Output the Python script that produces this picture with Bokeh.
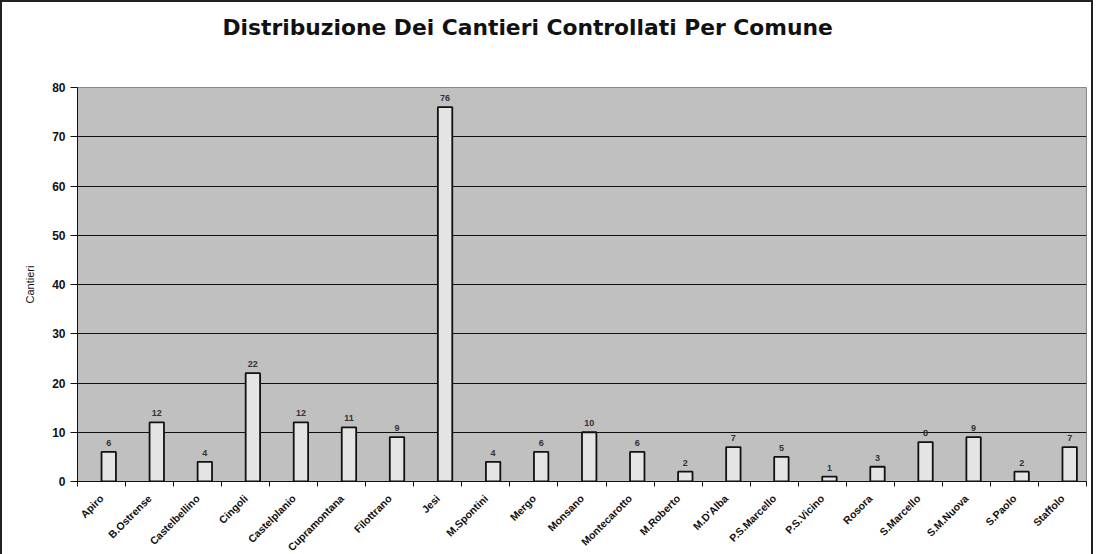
from bokeh.plotting import figure
from bokeh.models import ColumnDataSource, FixedTicker, LabelSet, Title, Range1d
from bokeh.core.properties import value
from bokeh.embed import file_html
from bokeh.resources import INLINE
import math

comuni = ["Apiro", "B.Ostrense", "Castelbellino", "Cingoli", "Castelplanio",
          "Cupramontana", "Filottrano", "Jesi", "M.Spontini", "Mergo",
          "Monsano", "Montecarotto", "M.Roberto", "M.D'Alba", "P.S.Marcello",
          "P.S.Vicino", "Rosora", "S.Marcello", "S.M.Nuova", "S.Paolo", "Staffolo"]
cantieri = [6, 12, 4, 22, 12, 11, 9, 76, 4, 6, 10, 6, 2, 7, 5, 1, 3, 8, 9, 2, 7]
y_ticks = [0, 10, 20, 30, 40, 50, 60, 70, 80]
titolo = "Distribuzione Dei Cantieri Controllati Per Comune"

idx = list(range(len(comuni)))
bar_left = [i + 0.0 for i in idx]
bar_right = [i + 0.3 for i in idx]
bar_mid = [i + 0.15 for i in idx]
src = ColumnDataSource(dict(x=idx, left=bar_left, right=bar_right, mid=bar_mid,
                            top=cantieri, txt=[str(v) for v in cantieri]))

FONT = "Liberation Sans"
p = figure(frame_width=1009, frame_height=394, output_backend="svg", toolbar_location=None,
           x_range=Range1d(-0.5, len(comuni) - 0.5), y_range=Range1d(0, 80),
           title_location=None,
           min_border_left=75, min_border_right=5, min_border_top=85, min_border_bottom=60)

# spacer between title and plot area, then the real title further out
spacer = Title(text=" ", text_font_size="14px", standoff=26, text_color="white")
p.add_layout(spacer, "above")
main_title = Title(text=titolo, align="left", offset=145, standoff=8,
                   text_font="DejaVu Sans", text_font_size="21.8px",
                   text_font_style="bold", text_color="#111111")
p.add_layout(main_title, "above")

p.background_fill_color = "#c0c0c0"
p.border_fill_color = "white"
p.outline_line_color = "#888888"
p.outline_line_width = 1

p.quad(left="left", right="right", bottom=0, top="top", source=src,
       fill_color="#e4e4e4", line_color="#111111", line_width=1.8)

labels = LabelSet(x="mid", y="top", text="txt", source=src, text_align="center",
                  y_offset=6, text_font=value(FONT), text_font_size=value("9px"),
                  text_font_style="bold", text_color="#333333")
p.add_layout(labels)

p.xgrid.grid_line_color = None
p.ygrid.ticker = FixedTicker(ticks=y_ticks[1:-1])
p.ygrid.grid_line_color = "#111111"
p.ygrid.grid_line_width = 1.2

p.yaxis.ticker = FixedTicker(ticks=y_ticks)
p.yaxis.axis_label = "Cantieri"
p.yaxis.axis_label_text_font = FONT
p.yaxis.axis_label_text_font_size = "11px"
p.yaxis.axis_label_text_font_style = "normal"
p.yaxis.axis_label_text_color = "#111111"
p.yaxis.axis_label_standoff = 13
p.yaxis.major_label_text_font = FONT
p.yaxis.major_label_text_font_size = "12px"
p.yaxis.major_label_text_font_style = "bold"
p.yaxis.major_label_text_color = "#111111"
p.yaxis.axis_line_color = "#111111"
p.yaxis.major_tick_line_color = "#111111"
p.yaxis.major_tick_out = 7
p.yaxis.major_tick_in = 0
p.yaxis.minor_tick_line_color = None

boundaries = [i - 0.5 for i in range(len(comuni) + 1)]
p.xaxis.ticker = FixedTicker(ticks=idx, minor_ticks=boundaries)
p.xaxis.major_label_overrides = {i: n for i, n in enumerate(comuni)}
p.xaxis.major_label_orientation = math.pi / 4
p.xaxis.major_label_text_font = FONT
p.xaxis.major_label_text_font_size = "10.5px"
p.xaxis.major_label_text_font_style = "bold"
p.xaxis.major_label_text_color = "#111111"
p.xaxis.major_label_standoff = 10
p.xaxis.major_tick_line_color = None
p.xaxis.major_tick_out = 0
p.xaxis.major_tick_in = 0
p.xaxis.minor_tick_line_color = "#111111"
p.xaxis.minor_tick_out = 5
p.xaxis.minor_tick_in = 0
p.xaxis.axis_line_color = "#111111"
p.xaxis.axis_line_width = 1.2

p.styles = {"border": "2px solid #222222"}

open("out.html", "w").write(file_html(p, INLINE))
